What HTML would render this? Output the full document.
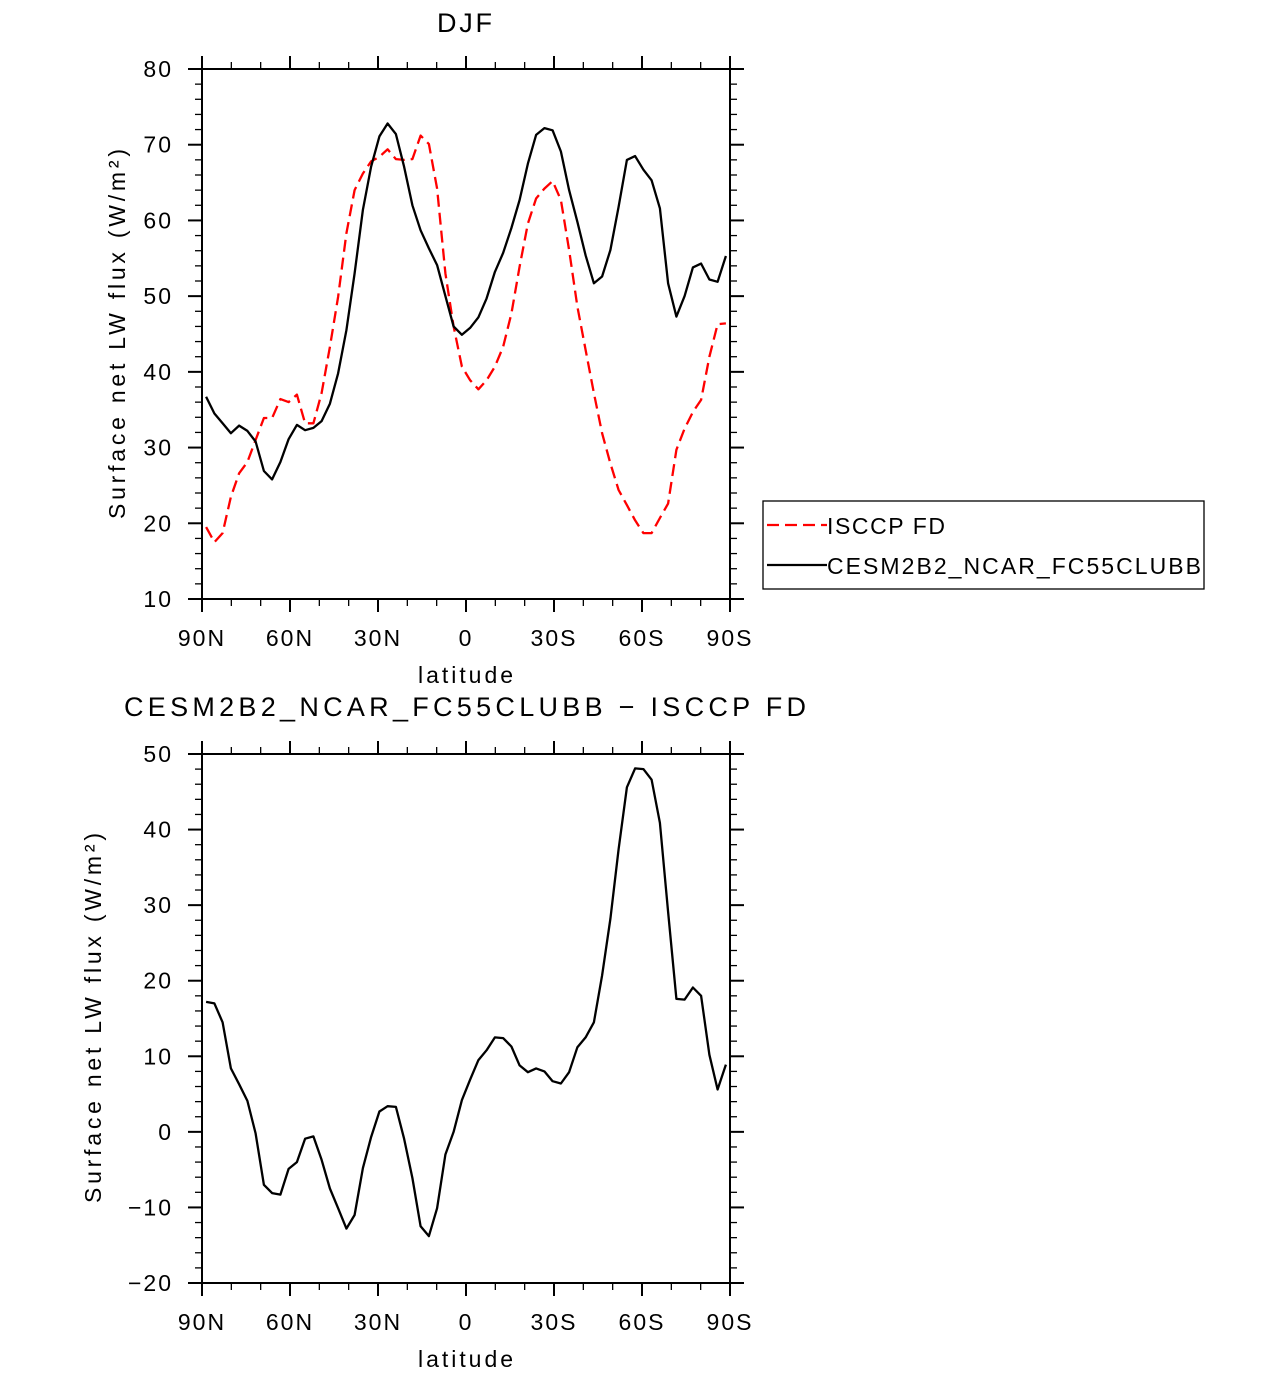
<!DOCTYPE html>
<html><head><meta charset="utf-8"><style>
html,body{margin:0;padding:0;background:#fff;}
svg{display:block;font-family:"Liberation Sans",sans-serif;}
</style></head><body>
<svg id="chart" width="1285" height="1373" viewBox="0 0 1285 1373" xmlns="http://www.w3.org/2000/svg"></svg>
<script>
const modelName = "CESM2B2_NCAR_FC55CLUBB";
const obsName = "ISCCP FD";
const xTickValues = [90, 60, 30, 0, -30, -60, -90];
const xTickLabels = ["90N", "60N", "30N", "0", "30S", "60S", "90S"];
const topYTicks = [10, 20, 30, 40, 50, 60, 70, 80];
const botYTicks = [-20, -10, 0, 10, 20, 30, 40, 50];
const modelValues = [36.7,34.5,33.2,31.9,32.9,32.2,30.8,26.9,25.8,28.1,31.1,33.0,32.3,32.6,33.5,35.8,39.8,45.5,53.0,61.4,67.1,71.1,72.8,71.4,67.1,62.0,58.7,56.3,54.1,50.0,46.0,44.9,45.8,47.2,49.7,53.2,55.7,59.0,62.7,67.5,71.3,72.2,71.9,69.1,64.0,59.8,55.4,51.7,52.6,56.1,61.8,68.0,68.5,66.7,65.3,61.6,51.7,47.3,50.0,53.8,54.3,52.2,51.9,55.3];
const obsValues = [19.5,17.5,18.7,23.5,26.6,28.1,31.0,33.9,33.9,36.4,36.0,37.0,33.2,33.2,37.2,43.3,49.9,58.3,64.0,66.2,67.8,68.4,69.4,68.1,68.0,68.1,71.2,70.1,64.2,53.0,46.0,40.7,38.9,37.7,38.9,40.7,43.3,47.7,53.9,59.6,62.9,64.2,65.2,62.7,56.1,48.6,42.9,37.2,31.9,27.9,24.4,22.4,20.4,18.7,18.7,20.7,22.6,29.7,32.5,34.7,36.3,42.0,46.3,46.4];

const NS = "http://www.w3.org/2000/svg";
const svgEl = document.getElementById("chart");
const X0 = 202, X1 = 730;
function latOf(i){ return 90 - (i + 0.5) * 180 / modelValues.length; }
function xScale(lat){ return X0 + (90 - lat) / 180 * (X1 - X0); }
function mk(tag, attrs, parent){ const e = document.createElementNS(NS, tag); for (const k in attrs) e.setAttribute(k, attrs[k]); (parent||svgEl).appendChild(e); return e; }
function txt(s, x, y, size, anchor, parent){ const t = mk("text", {x:x, y:y, "font-size":size, "text-anchor":anchor||"middle", fill:"#000"}, parent); t.textContent = s; return t; }
function stretch(t, len){ t.setAttribute("textLength", len); t.setAttribute("lengthAdjust", "spacing"); }

function panel(name, yTop, yBot, vMin, vMax, yTicks, minorStep){
  const g = mk("g", {});
  
  
  const ys = v => yBot - (v - vMin) / (vMax - vMin) * (yBot - yTop);
  const frame = mk("rect", {x:X0, y:yTop, width:X1-X0, height:yBot-yTop, fill:"none", stroke:"#000", "stroke-width":2}, g);
  
  
  for (let lat = 90; lat >= -90; lat -= 10) {
    const x = xScale(lat), major = lat % 30 === 0, L = major ? 13 : 7;
    mk("line", {x1:x, x2:x, y1:yTop, y2:yTop-L, stroke:"#000", "stroke-width":major?2:1.3}, g);
    mk("line", {x1:x, x2:x, y1:yBot, y2:yBot+L, stroke:"#000", "stroke-width":major?2:1.3}, g);
  }
  xTickValues.forEach((lat, i) => {
    const t = txt(xTickLabels[i], xScale(lat), yBot + 47, 23, "middle", g);
    t.setAttribute("letter-spacing", "2");
    
    
  });
  for (let v = vMin; v <= vMax + 1e-9; v += minorStep) {
    const y = ys(v), major = Math.abs(v % 10) < 1e-9, L = major ? 14 : 7;
    mk("line", {x1:X0, x2:X0-L, y1:y, y2:y, stroke:"#000", "stroke-width":major?2:1.3}, g);
    mk("line", {x1:X1, x2:X1+L, y1:y, y2:y, stroke:"#000", "stroke-width":major?2:1.3}, g);
  }
  yTicks.forEach(v => {
    const t = txt(v < 0 ? "\u2212" + (-v) : String(v), 173, ys(v) + 8, 23, "end", g);
    t.setAttribute("letter-spacing", "2");
    
    
  });
  const xl = txt("latitude", 418, yBot + 84, 23, "start", g);
  stretch(xl, 95);
  
  
  return {g, ys};
}

function drawLine(values, ys, color, dash, name, g){
  const pts = values.map((v, i) => xScale(latOf(i)).toFixed(1) + "," + ys(v).toFixed(1)).join(" ");
  const p = mk("polyline", {points:pts, fill:"none", stroke:color, "stroke-width":2.3, "stroke-linejoin":"round"}, g);
  if (dash) p.setAttribute("stroke-dasharray", dash);
  
  
}

const topPanel = panel("top-panel-djf", 69, 599, 10, 80, topYTicks, 2);
const t1 = txt("DJF", 437, 32, 27, "start");
stretch(t1, 55);


const yl1 = txt("Surface net LW flux (W/m\u00B2)", 0, 0, 23, "start");
stretch(yl1, 370);
yl1.setAttribute("transform", "translate(125,519) rotate(-90)");


drawLine(obsValues, topPanel.ys, "#ff0000", "12,6", "isccp-line", topPanel.g);
drawLine(modelValues, topPanel.ys, "#000", null, "model-line", topPanel.g);

const lg = mk("g", {});


mk("rect", {x:763, y:501, width:441, height:88, fill:"#fff", stroke:"#000", "stroke-width":1.3}, lg);
const l1 = mk("line", {x1:767, x2:827, y1:525, y2:525, stroke:"#ff0000", "stroke-width":2.3, "stroke-dasharray":"12,6"}, lg);


const lt1 = txt(obsName, 827, 534, 23, "start", lg);
stretch(lt1, 118);


const l2 = mk("line", {x1:767, x2:827, y1:565, y2:565, stroke:"#000", "stroke-width":2.3}, lg);


const lt2 = txt(modelName, 827, 574, 23, "start", lg);
stretch(lt2, 374);



const botPanel = panel("bottom-panel-difference", 754, 1283, -20, 50, botYTicks, 2);
const t2 = txt(modelName + " \u2212 " + obsName, 124, 716, 27, "start");
stretch(t2, 682);


const yl2 = txt("Surface net LW flux (W/m\u00B2)", 0, 0, 23, "start");
stretch(yl2, 370);
yl2.setAttribute("transform", "translate(101,1203) rotate(-90)");


const diffValues = modelValues.map((v, i) => v - obsValues[i]);
drawLine(diffValues, botPanel.ys, "#000", null, "difference-line", botPanel.g);
</script>
</body></html>
